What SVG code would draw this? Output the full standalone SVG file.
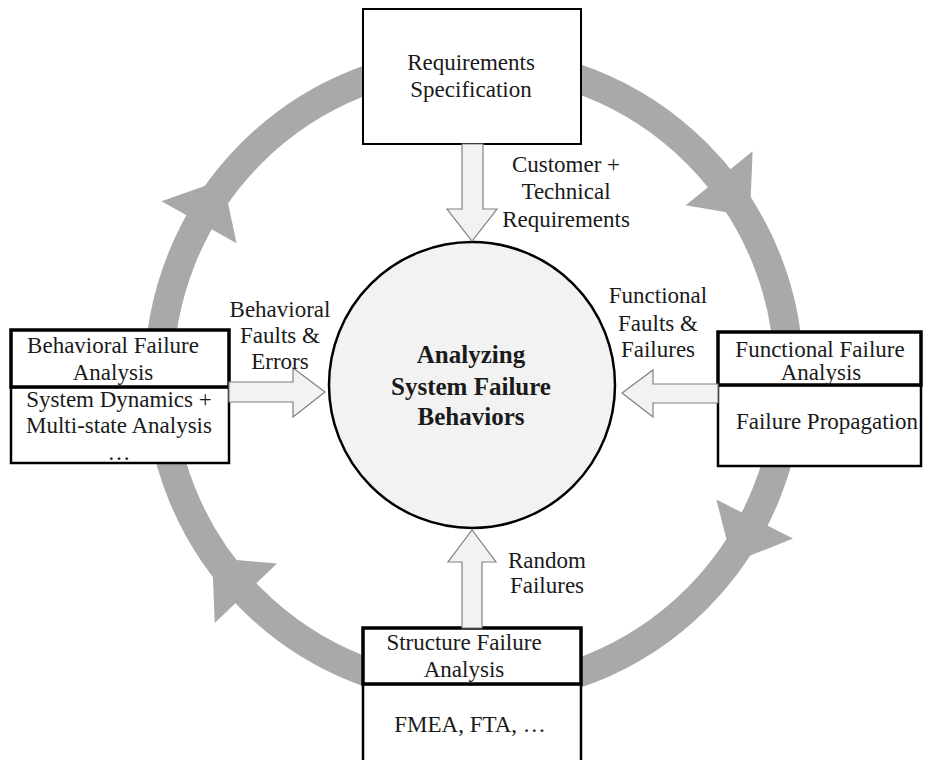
<svg xmlns="http://www.w3.org/2000/svg" xmlns:xlink="http://www.w3.org/1999/xlink" width="925" height="760" viewBox="0 0 925 760">
  <style>
    text { font-family: "Liberation Serif", "Times New Roman", serif; font-size: 23px; fill: #1a1a1a; text-anchor: middle; }
    .bold { font-weight: bold; font-size: 25px; }
    .ring { fill: none; stroke: #a9a9a9; stroke-width: 29; }
    .ah { fill: #a9a9a9; }
    .box { fill: #ffffff; stroke: #000000; stroke-width: 2; }
    .hdr { fill: #ffffff; stroke: #000000; stroke-width: 3.5; }
    .body { fill: #ffffff; stroke: #000000; stroke-width: 2.5; }
    .blk { fill: #f2f2f2; stroke: #808080; stroke-width: 1.2; stroke-linejoin: miter; }
  </style>
  <defs>
    <polygon id="ah" class="ah" points="272,0 358,0 315,49"/>
  </defs>
  <rect width="925" height="760" fill="#ffffff"/>

  <g id="cycle">
    <circle class="ring" cx="474" cy="376" r="315"/>
    <use xlink:href="#ah" href="#ah" transform="translate(474 376) rotate(209.2)"/>
    <use xlink:href="#ah" href="#ah" transform="translate(474 376) rotate(321.1)"/>
    <use xlink:href="#ah" href="#ah" transform="translate(474 376) rotate(27)"/>
    <use xlink:href="#ah" href="#ah" transform="translate(474 376) rotate(136.4)"/>
  </g>

  <g id="center">
    <circle cx="472" cy="385" r="143" fill="#f2f2f2" stroke="#000000" stroke-width="2.5"/>
    <text class="bold" x="471" y="363">Analyzing</text>
    <text class="bold" x="471" y="395">System Failure</text>
    <text class="bold" x="471" y="425">Behaviors</text>
  </g>

  <g id="requirements">
    <rect class="box" x="363" y="9" width="218" height="135"/>
    <text x="471" y="70">Requirements</text>
    <text x="471" y="97">Specification</text>
  </g>

  <g id="behavioral">
    <rect class="body" x="11" y="387" width="218" height="76"/>
    <rect class="hdr" x="11" y="330" width="218" height="57"/>
    <text x="113" y="353">Behavioral  Failure</text>
    <text x="113" y="380">Analysis</text>
    <text x="119" y="407">System Dynamics +</text>
    <text x="119" y="433">Multi-state Analysis</text>
    <text x="119" y="460">…</text>
  </g>

  <g id="functional">
    <rect class="body" x="718" y="385" width="203" height="81"/>
    <rect class="hdr" x="718" y="332" width="203" height="53"/>
    <text x="820" y="357">Functional Failure</text>
    <text x="821" y="380">Analysis</text>
    <text x="827" y="429">Failure Propagation</text>
  </g>

  <g id="structure">
    <rect class="body" x="363" y="684" width="218" height="90"/>
    <rect class="hdr" x="363" y="628" width="218" height="56"/>
    <text x="464" y="650">Structure Failure</text>
    <text x="464" y="677">Analysis</text>
    <text x="470" y="732">FMEA, FTA, …</text>
  </g>

  <g id="connectors">
    <polygon class="blk" points="462,144 483,144 483,209 497,209 472,241 447,209 462,209"/>
    <polygon class="blk" points="229,382 293,382 293,368 325,392 293,417 293,402 229,402"/>
    <polygon class="blk" points="718,384 653,384 653,370 622,393 653,417 653,403 718,403"/>
    <polygon class="blk" points="462,628 462,562 448,562 472,530 496,562 482,562 482,628"/>
    <text x="566" y="172">Customer +</text>
    <text x="566" y="199">Technical</text>
    <text x="566" y="227">Requirements</text>
    <text x="280" y="317">Behavioral</text>
    <text x="280" y="343">Faults &amp;</text>
    <text x="280" y="369">Errors</text>
    <text x="658" y="303">Functional</text>
    <text x="658" y="331">Faults &amp;</text>
    <text x="658" y="357">Failures</text>
    <text x="547" y="568">Random</text>
    <text x="547" y="593">Failures</text>
  </g>
</svg>
